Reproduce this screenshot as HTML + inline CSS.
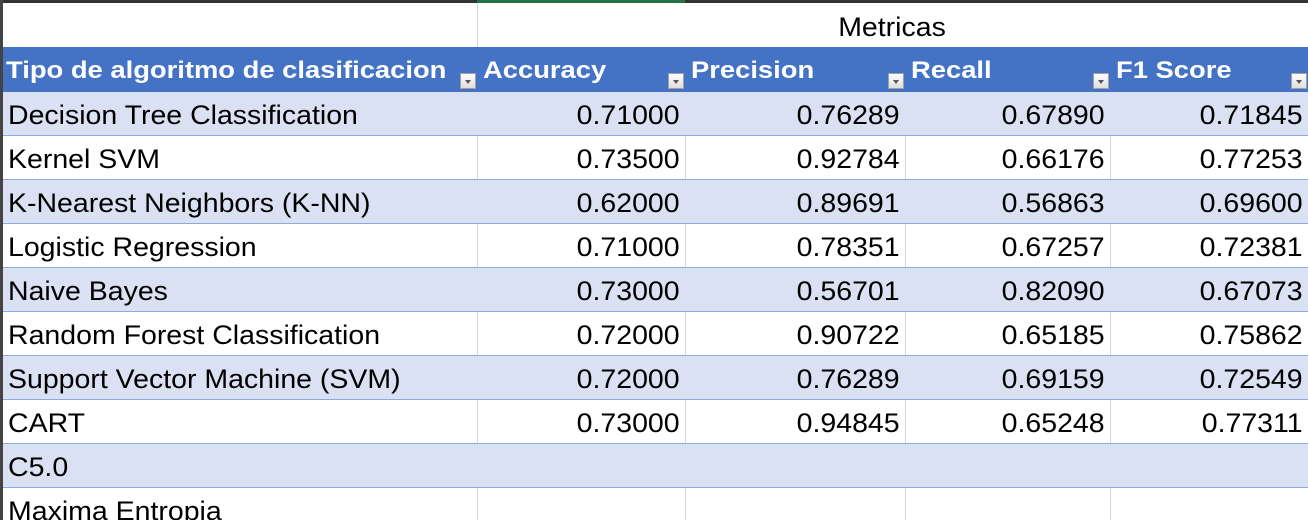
<!DOCTYPE html>
<html><head><meta charset="utf-8"><style>
html,body{margin:0;width:1308px;height:520px;overflow:hidden}
body{background:#fff;font-family:"Liberation Sans",Arial,sans-serif;position:relative}
.c{position:absolute;box-sizing:border-box;white-space:nowrap;font-size:27px;color:#000;line-height:44px}
.c span{display:inline-block;transform:scaleX(1.055)}
.h span{display:inline-block;transform:scaleX(1.14)}
.l span{transform-origin:left center}
.r span{transform-origin:right center}
.hdr{position:absolute;left:0;top:47px;width:1308px;height:45px;background:#4472C4}
.h{position:absolute;top:47px;height:45px;line-height:48px;color:#fff;font-weight:bold;font-size:24px;padding-left:6px;box-sizing:border-box;white-space:nowrap}
.h span{transform-origin:left center}
.dd{position:absolute;top:73px;width:16px;height:16px;box-sizing:border-box;border:1px solid #a0a0a0;background:linear-gradient(#fff,#ddd)}
.dd:after{content:"";position:absolute;left:4px;top:6px;border-left:3.5px solid transparent;border-right:3.5px solid transparent;border-top:4px solid #555}
.row{position:absolute;left:0;width:1308px;height:44px;border-bottom:1px solid #8EA9DB;box-sizing:border-box}
.vl{position:absolute;width:1px;background:#d4d4d4}
</style></head><body>
<div style="position:absolute;left:0;top:0;width:1308px;height:3px;background:#333"></div>
<div style="position:absolute;left:477px;top:0;width:208px;height:3px;background:#217346"></div>
<div style="position:absolute;left:0;top:0;width:3px;height:520px;background:#444;z-index:5"></div>
<div class="vl" style="left:477px;top:3px;height:44px"></div>
<div class="c" style="left:477px;width:831px;top:5px;text-align:center"><span>Metricas</span></div>
<div class="hdr"></div>
<div id="t"></div>
<script>
const cols=[0,477,685,905,1110,1308];
const headers=["Tipo de algoritmo de clasificacion","Accuracy","Precision","Recall","F1 Score"];
const names=["Decision Tree Classification","Kernel SVM","K-Nearest Neighbors (K-NN)","Logistic Regression","Naive Bayes","Random Forest Classification","Support Vector Machine (SVM)","CART","C5.0","Maxima Entropia"];
const accuracy=["0.71000","0.73500","0.62000","0.71000","0.73000","0.72000","0.72000","0.73000"];
const precision=["0.76289","0.92784","0.89691","0.78351","0.56701","0.90722","0.76289","0.94845"];
const recall=["0.67890","0.66176","0.56863","0.67257","0.82090","0.65185","0.69159","0.65248"];
const f1=["0.71845","0.77253","0.69600","0.72381","0.67073","0.75862","0.72549","0.77311"];
const series=[accuracy,precision,recall,f1];
const t=document.getElementById('t');
function sp(txt){const s=document.createElement('span');s.textContent=txt;return s;}
headers.forEach((h,i)=>{
  const d=document.createElement('div');d.className='h';
  
  
  d.style.left=cols[i]+'px';d.style.width=(cols[i+1]-cols[i])+'px';d.appendChild(sp(h));t.appendChild(d);
  const b=document.createElement('div');b.className='dd';
  
  
  b.style.left=(cols[i+1]-17)+'px';t.appendChild(b);
});
names.forEach((n,r)=>{
  const y=92+44*r;
  const row=document.createElement('div');row.className='row';
  
  
  row.style.top=y+'px';row.style.background=r%2==0?'#D9E1F2':'#fff';
  if(r==9)row.style.borderBottom='none';
  t.appendChild(row);
  if(r%2==1){for(let k=1;k<5;k++){const v=document.createElement('div');v.className='vl';v.style.left=cols[k]+'px';v.style.top=y+'px';v.style.height='43px';t.appendChild(v);}}
  const c=document.createElement('div');c.className='c l';
  
  
  c.style.left='8px';c.style.top=(y+1)+'px';c.appendChild(sp(n));t.appendChild(c);
  series.forEach((s,k)=>{
    if(s[r]===undefined)return;
    const v=document.createElement('div');v.className='c r';
    
    
    v.style.left=cols[k+1]+'px';v.style.width=(cols[k+2]-cols[k+1]-5)+'px';v.style.textAlign='right';
    v.style.top=(y+1)+'px';v.appendChild(sp(s[r]));t.appendChild(v);
  });
});
</script>
</body></html>
